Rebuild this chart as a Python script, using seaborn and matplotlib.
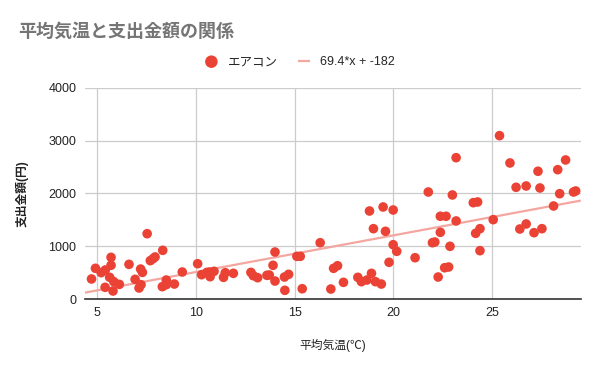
import matplotlib
matplotlib.use("Agg")
import matplotlib.pyplot as plt
import seaborn as sns
import numpy as np
import pandas as pd

# 平均気温 (℃) と エアコン の支出金額 (円)
temp = [4.70, 4.90, 5.19, 5.40, 5.39, 5.69, 5.69, 5.62, 5.83, 5.79,
        6.11, 6.60, 6.91, 7.19, 7.28, 7.21, 7.11, 7.52, 7.68, 7.82,
        7.92, 8.31, 8.29, 8.49, 8.49, 8.90, 9.30, 10.08, 10.28, 10.55,
        10.71, 10.69, 10.91, 11.39, 11.48, 11.89, 12.78, 12.90, 13.12, 13.59,
        13.71, 13.90, 14.00, 14.00, 14.48, 14.69, 14.50, 15.11, 15.28, 15.38,
        16.29, 16.83, 16.97, 17.17, 17.47, 18.20, 18.38, 18.66, 18.89, 18.79,
        18.99, 19.09, 19.39, 19.48, 19.60, 19.78, 19.99, 19.99, 20.17, 21.10,
        21.77, 21.98, 22.10, 22.27, 22.38, 22.67, 22.38, 22.60, 22.80, 22.87,
        22.99, 23.18, 23.18, 24.05, 24.27, 24.17, 24.39, 24.39, 25.06, 25.38,
        25.91, 26.22, 26.41, 26.73, 26.73, 27.13, 27.33, 27.43, 27.53, 28.12,
        28.33, 28.43, 28.73, 29.13, 29.24]
spend = [380, 582, 500, 550, 222, 790, 640, 411, 329, 152,
         278, 657, 373, 568, 505, 272, 209, 1238, 727, 765,
         797, 923, 234, 360, 272, 284, 512, 669, 461, 505,
         423, 512, 525, 411, 499, 487, 505, 442, 404, 449,
         455, 639, 891, 341, 417, 468, 165, 809, 809, 195,
         1067, 190, 582, 631, 316, 411, 329, 360, 487, 1668,
         1333, 329, 284, 1744, 1283, 696, 1687, 1029, 904, 783,
         2028, 1067, 1080, 417, 1568, 1568, 1264, 593, 607, 999,
         1972, 2678, 1479, 1826, 1839, 1245, 1333, 916, 1504, 3096,
         2578, 2117, 1327, 2142, 1422, 1257, 2421, 2104, 1333, 1763,
         2451, 1996, 2635, 2028, 2047]

slope = 69.4
intercept = -182
x_range = [4.35, 29.5]
y_ticks = [0, 1000, 2000, 3000, 4000]
x_ticks = [5, 10, 15, 20, 25]

df = pd.DataFrame({"平均気温(℃)": temp, "支出金額(円)": spend})

sns.set_style("white")
plt.rcParams["font.family"] = ["Liberation Sans", "Noto Sans CJK JP", "DejaVu Sans"]

fig = plt.figure(figsize=(6, 3.71), dpi=100)
ax = fig.add_axes([0.141, 0.194, 0.827, 0.569])

# trendline
tx = np.array(x_range)
ax.plot(tx, slope * tx + intercept, color="#f4a6a0", lw=1.6, zorder=2,
        label="69.4*x + -182", solid_capstyle="butt")

sns.scatterplot(data=df, x="平均気温(℃)", y="支出金額(円)", ax=ax,
                color="#ea4335", s=48, edgecolor="none", zorder=3,
                label="エアコン")

ax.set_xlim(x_range)
ax.set_ylim(0, 4000)
ax.set_xticks(x_ticks)
ax.set_yticks(y_ticks)
ax.grid(True, color="#cccccc", lw=0.9)
ax.set_axisbelow(True)
for s in ["top", "right", "left"]:
    ax.spines[s].set_visible(False)
ax.spines["bottom"].set_color("#333333")
ax.spines["bottom"].set_linewidth(1.2)
ax.tick_params(length=0, labelsize=9, colors="#222222", pad=6)
ax.set_xlabel("平均気温(℃)", fontsize=8.5, color="#222222", labelpad=14)
ax.set_ylabel("支出金額(円)", fontsize=8.5, color="#222222", labelpad=14,
              fontweight="bold")

# legend order: scatter first
h, l = ax.get_legend_handles_labels()
order = [l.index("エアコン"), l.index("69.4*x + -182")]
ax.legend([h[i] for i in order], [l[i] for i in order], loc="center",
          bbox_to_anchor=(0.5, 0.833), bbox_transform=fig.transFigure,
          ncol=2, frameon=False, fontsize=9, handlelength=1.0,
          columnspacing=1.6, handletextpad=0.8, markerscale=1.3)

fig.text(0.03, 0.915, "平均気温と支出金額の関係", fontsize=13, color="#757575",
         fontweight="bold", va="center")

fig.savefig("out.png", dpi=100, facecolor="white")
